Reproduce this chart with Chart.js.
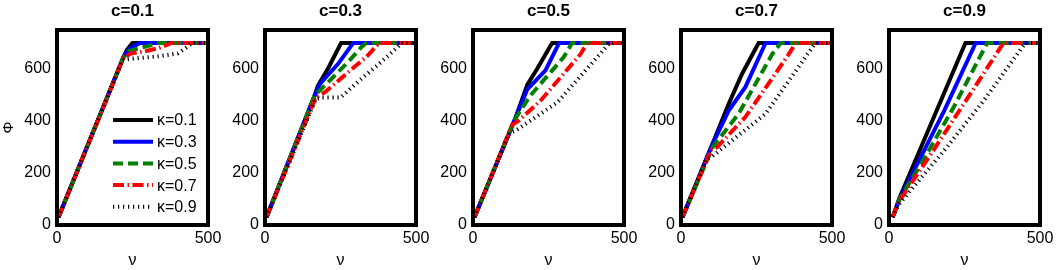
<!DOCTYPE html>
<html><head><meta charset="utf-8">
<script src="https://cdn.jsdelivr.net/npm/chart.js@4"></script>
<style>
html,body{margin:0;padding:0;background:#fff;overflow:hidden;width:1060px;height:270px;}
#wrap{position:relative;width:1060px;height:270px;overflow:hidden;background:#fff;}
canvas{position:absolute;top:0;}
</style></head><body><div id="wrap"></div>
<script>
// ---- text / ticks ----
const panelTitles = ['c=0.1', 'c=0.3', 'c=0.5', 'c=0.7', 'c=0.9'];
const kappaLabels = ['\u03BA=0.1', '\u03BA=0.3', '\u03BA=0.5', '\u03BA=0.7', '\u03BA=0.9'];
const xLabel = '\u03BD';
const yLabel = '\u03A6';
const xTicks = [0, 500];
const yTicks = [0, 200, 400, 600];
const xRange = [0, 500];
const yRange = [0, 750];

// ---- data: [nu, Phi] points ----
// c = 0.1
const c1_k1 = [[5,30],[218,640],[232,675],[250,700],[500,700]];
const c1_k3 = [[5,30],[220,645],[238,675],[258,690],[275,700],[500,700]];
const c1_k5 = [[5,30],[220,645],[240,670],[300,688],[335,700],[500,700]];
const c1_k7 = [[5,30],[220,642],[245,660],[290,668],[335,680],[380,700],[500,700]];
const c1_k9 = [[5,30],[217,635],[250,640],[330,648],[400,660],[430,684],[446,700],[500,700]];
// c = 0.3
const c3_k1 = [[5,30],[165,500],[175,535],[210,605],[252,700],[500,700]];
const c3_k3 = [[5,30],[165,500],[182,543],[242,620],[292,700],[500,700]];
const c3_k5 = [[5,30],[165,500],[182,518],[237,582],[280,633],[319,684],[335,700],[500,700]];
const c3_k7 = [[5,30],[168,490],[200,512],[270,582],[340,652],[378,700],[500,700]];
const c3_k9 = [[5,30],[168,485],[185,490],[250,490],[320,563],[385,627],[440,685],[452,700],[500,700]];
// c = 0.5
const c5_k1 = [[5,30],[140,410],[180,540],[212,600],[262,700],[500,700]];
const c5_k3 = [[5,30],[140,410],[180,522],[240,595],[285,700],[500,700]];
const c5_k5 = [[5,30],[135,400],[190,498],[300,645],[328,700],[500,700]];
const c5_k7 = [[5,30],[130,385],[150,400],[225,480],[356,657],[378,700],[500,700]];
const c5_k9 = [[5,30],[120,355],[140,362],[280,472],[445,690],[452,700],[500,700]];
// c = 0.7
const c7_k1 = [[5,30],[100,300],[158,466],[202,581],[257,700],[500,700]];
const c7_k3 = [[5,30],[100,300],[158,440],[213,530],[280,700],[500,700]];
const c7_k5 = [[5,30],[105,300],[191,428],[302,657],[330,700],[500,700]];
const c7_k7 = [[5,30],[100,290],[120,300],[213,415],[357,657],[380,700],[500,700]];
const c7_k9 = [[5,30],[85,255],[97,258],[280,428],[435,683],[445,700],[500,700]];
// c = 0.9
const c9_k1 = [[12,30],[35,105],[253,700],[500,700]];
const c9_k3 = [[12,30],[35,100],[183,440],[287,700],[500,700]];
const c9_k5 = [[12,30],[33,95],[120,262],[215,455],[325,700],[500,700]];
const c9_k7 = [[12,30],[33,90],[140,275],[250,470],[379,700],[500,700]];
const c9_k9 = [[12,30],[33,80],[183,287],[314,479],[445,690],[452,700],[500,700]];

const panelData = [
  [c1_k1, c1_k3, c1_k5, c1_k7, c1_k9],
  [c3_k1, c3_k3, c3_k5, c3_k7, c3_k9],
  [c5_k1, c5_k3, c5_k5, c5_k7, c5_k9],
  [c7_k1, c7_k3, c7_k5, c7_k7, c7_k9],
  [c9_k1, c9_k3, c9_k5, c9_k7, c9_k9]
];

// ---- styles / layout ----
const lineStyles = [
  {color:'#000000', dash:[]},
  {color:'#0000ff', dash:[]},
  {color:'#008000', dash:[10,5]},
  {color:'#ff0000', dash:[11,3.5,1.5,3.5]},
  {color:'#000000', dash:[1.2,3.8]}
];
const FAMILY = '"Liberation Sans", Arial, Helvetica, sans-serif';
const boxLefts = [57, 265, 473, 681, 889];
const boxWidth = 151;
const sideW = 57;

const boxPlugin = {
  id: 'boxFrame',
  afterDatasetsDraw(chart) {
    const {ctx, chartArea: a} = chart;
    ctx.save();
    ctx.strokeStyle = '#000';
    ctx.lineWidth = 4;
    ctx.strokeRect(a.left, a.top, a.right - a.left, a.bottom - a.top);
    ctx.restore();
  }
};

const inLegend = {
  id: 'inLegend',
  afterDraw(chart, args, opts) {
    if (!opts.show) return;
    const {ctx, chartArea: a} = chart;
    ctx.save();
    chart.data.datasets.forEach((ds, i) => {
      const y = a.top + 90 + i * 21.7;
      const x0 = a.left + 56, x1 = a.left + 96;
      ctx.beginPath();
      ctx.strokeStyle = ds.borderColor;
      ctx.lineWidth = ds.borderWidth;
      ctx.lineCap = 'butt';
      ctx.setLineDash(ds.borderDash || []);
      ctx.moveTo(x0, y); ctx.lineTo(x1, y);
      ctx.stroke();
      ctx.setLineDash([]);
      ctx.fillStyle = '#000';
      ctx.font = '16px ' + FAMILY;
      ctx.textAlign = 'left';
      ctx.textBaseline = 'middle';
      ctx.fillText(ds.label, a.left + 100, y + 1);
    });
    ctx.restore();
  }
};

const wrap = document.getElementById('wrap');
panelData.forEach((series, p) => {
  const canvas = document.createElement('canvas');
  const W = boxWidth + 2 * sideW;
  canvas.width = W; canvas.height = 270;
  canvas.style.width = W + 'px'; canvas.style.height = '270px';
  canvas.style.left = (boxLefts[p] - sideW) + 'px';
  wrap.appendChild(canvas);
  new Chart(canvas, {
    type: 'line',
    data: {
      datasets: series.map((pts, k) => ({
        label: kappaLabels[k],
        data: pts.map(([x, y]) => ({x, y})),
        borderColor: lineStyles[k].color,
        borderDash: lineStyles[k].dash,
        borderWidth: 4,
        borderCapStyle: 'butt',
        borderJoinStyle: 'miter',
        pointRadius: 0,
        tension: 0,
        fill: false,
        order: 5 - k
      }))
    },
    options: {
      responsive: false,
      animation: false,
      devicePixelRatio: 1,
      layout: {padding: 0},
      plugins: {
        legend: {display: false},
        tooltip: {enabled: false},
        title: {display: true, text: panelTitles[p], color: '#000',
                font: {family: FAMILY, size: 17, weight: 'bold'},
                padding: {top: 0.8, bottom: 8.8}},
        inLegend: {show: p === 0}
      },
      scales: {
        x: {
          type: 'linear', min: xRange[0], max: xRange[1],
          grid: {display: false, drawTicks: false},
          border: {display: false},
          ticks: {color: '#000', font: {family: FAMILY, size: 16}, padding: 4, maxRotation: 0, autoSkip: false},
          afterBuildTicks: s => { s.ticks = xTicks.map(v => ({value: v})); },
          afterFit: s => { s.height = 45; },
          title: {display: true, text: xLabel, color: '#000', font: {family: FAMILY, size: 16}, padding: {top: 0, bottom: 0}}
        },
        y: {
          type: 'linear', position: 'left', min: yRange[0], max: yRange[1],
          grid: {display: false, drawTicks: false},
          border: {display: false},
          ticks: {color: '#000', font: {family: FAMILY, size: 16}, padding: 6, autoSkip: false},
          afterBuildTicks: s => { s.ticks = yTicks.map(v => ({value: v})); },
          afterFit: s => { s.width = sideW; },
          title: {display: p === 0, text: yLabel, color: '#000', font: {family: FAMILY, size: 15}, padding: {top: 0, bottom: 0}}
        },
        yRight: {
          type: 'linear', position: 'right', min: yRange[0], max: yRange[1],
          grid: {display: false, drawTicks: false},
          border: {display: false},
          ticks: {display: false},
          afterFit: s => { s.width = sideW; }
        }
      }
    },
    plugins: [boxPlugin, inLegend]
  });
});
</script>
</body></html>
